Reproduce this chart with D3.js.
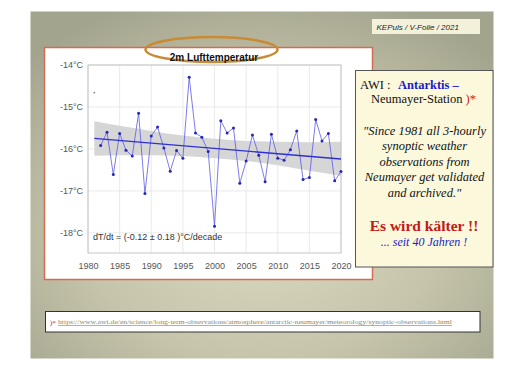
<!DOCTYPE html>
<html><head><meta charset="utf-8">
<script src="https://cdn.jsdelivr.net/npm/d3@7"></script>
<style>html,body{margin:0;padding:0;background:#fff;}svg{display:block;}</style>
</head><body>
<svg id="c" width="524" height="370"></svg>
<script>
// ---- data ----
const years = d3.range(1982, 2021);
const temps = [-15.92,-15.60,-16.61,-15.63,-16.03,-16.17,-15.15,-17.06,-15.69,-15.48,
  -15.98,-16.53,-16.04,-16.22,-14.29,-15.62,-15.72,-16.06,-17.84,-15.33,
  -15.62,-15.50,-16.82,-16.29,-15.67,-16.15,-16.78,-15.65,-16.22,-16.27,
  -16.02,-15.57,-16.73,-16.68,-15.30,-15.81,-15.63,-16.76,-16.54];
const strayYear = 1981, strayTemp = -14.66;
const trendYears = [1981, 2020];
const trendTemps = [-15.75, -16.24];
const bandYears = [1981,1985,1990,1995,2000,2005,2010,2015,2020];
const bandHigh  = [-15.34,-15.45,-15.57,-15.68,-15.76,-15.81,-15.83,-15.84,-15.83];
const bandLow   = [-16.16,-16.15,-16.15,-16.17,-16.22,-16.29,-16.39,-16.52,-16.64];
const yTicks = [-14,-15,-16,-17,-18];
const xTicks = [1980,1985,1990,1995,2000,2005,2010,2015,2020];
const titleText = "2m Lufttemperatur";
const annotation = "dT/dt = (-0.12 \u00b1 0.18 )\u00b0C/decade";
const sourceText = "KEPuls / V-Folie / 2021";
const quoteLines = ["\"Since 1981 all 3-hourly","synoptic weather","observations from","Neumayer get validated","and archived.\""];
const url = "https://www.awi.de/en/science/long-term-observations/atmosphere/antarctic-neumayer/meteorology/synoptic-observations.html";

const svg = d3.select("#c");
const defs = svg.append("defs");
const rg = defs.append("radialGradient").attr("id","bg").attr("cx","50%").attr("cy","62%").attr("r","70%");
rg.append("stop").attr("offset","0%").attr("stop-color","#dbd9c0");
rg.append("stop").attr("offset","55%").attr("stop-color","#c6c5ab");
rg.append("stop").attr("offset","100%").attr("stop-color","#a3a48e");

// slide background
svg.append("rect").attr("x",30.5).attr("y",11.5).attr("width",463).attr("height",347).attr("fill","url(#bg)");

// source box
svg.append("rect").attr("x",372).attr("y",19).attr("width",108).attr("height",15).attr("fill","#f4f1da");
svg.append("text").attr("x",376.5).attr("y",29.5).attr("font-family","Liberation Sans, Arial, sans-serif")
  .attr("font-size",8).attr("font-style","italic").attr("fill","#222").text(sourceText);

// chart box
svg.append("rect").attr("x",44.5).attr("y",47.5).attr("width",328).attr("height",232)
  .attr("fill","#fff").attr("stroke","#d26c52").attr("stroke-width",1.5);

const x = d3.scaleLinear().domain([1980,2020]).range([88,341]);
const y = d3.scaleLinear().domain([-18.48,-14]).range([253,65]);

// grid
const g = svg.append("g");
g.selectAll(".vg").data(xTicks).join("line").attr("x1",d=>x(d)).attr("x2",d=>x(d))
  .attr("y1",y.range()[1]).attr("y2",y.range()[0]).attr("stroke","#e4e4e4").attr("stroke-width",0.8);
g.selectAll(".hg").data(yTicks).join("line").attr("y1",d=>y(d)).attr("y2",d=>y(d))
  .attr("x1",x.range()[0]).attr("x2",x.range()[1]).attr("stroke","#e4e4e4").attr("stroke-width",0.8);

// band
const area = d3.area().x((d,i)=>x(bandYears[i])).y0((d,i)=>y(bandLow[i])).y1((d,i)=>y(bandHigh[i])).curve(d3.curveMonotoneX);
g.append("path").datum(bandYears).attr("d",area).attr("fill","#d6d6d6");

// frame
g.append("rect").attr("x",x.range()[0]).attr("y",y.range()[1]).attr("width",x.range()[1]-x.range()[0])
  .attr("height",y.range()[0]-y.range()[1]).attr("fill","none").attr("stroke","#b8b8b8").attr("stroke-width",0.8);

// axes
const ax = g.append("g").attr("transform",`translate(0,${y.range()[0]})`)
  .call(d3.axisBottom(x).tickValues(xTicks).tickFormat(d=>String(d)).tickSize(0).tickPadding(10));
const ay = g.append("g").attr("transform",`translate(${x.range()[0]},0)`)
  .call(d3.axisLeft(y).tickValues(yTicks).tickFormat(d=>String(d)+"\u00b0C").tickSize(0).tickPadding(5));
[ax,ay].forEach(a=>{a.select(".domain").remove();
  a.selectAll("text").attr("font-family","Liberation Sans, Arial, sans-serif").attr("font-size",9).attr("fill","#555");});

// series line
const line = d3.line().x((d,i)=>x(years[i])).y(d=>y(d));
g.append("path").datum(temps).attr("d",line).attr("fill","none").attr("stroke","#5a5ae6").attr("stroke-width",0.8);
// trend
g.append("line").attr("x1",x(trendYears[0])).attr("y1",y(trendTemps[0])).attr("x2",x(trendYears[1])).attr("y2",y(trendTemps[1]))
  .attr("stroke","#2f2fd6").attr("stroke-width",1.3);
// points
g.selectAll(".pt").data(temps).join("circle").attr("cx",(d,i)=>x(years[i])).attr("cy",d=>y(d)).attr("r",1.5).attr("fill","#2626b8");
g.append("circle").attr("cx",x(strayYear)).attr("cy",y(strayTemp)).attr("r",0.9).attr("fill","#888");

// annotation
g.append("text").attr("x",93).attr("y",239.5).attr("font-family","Liberation Sans, Arial, sans-serif")
  .attr("font-size",9).attr("fill","#333").text(annotation);

// title ellipse
svg.append("ellipse").attr("cx",211.5).attr("cy",49.5).attr("rx",66).attr("ry",12.5)
  .attr("fill","none").attr("stroke","#c98a34").attr("stroke-width",2.5);
svg.append("text").attr("x",214).attr("y",60.5).attr("text-anchor","middle")
  .attr("font-family","Liberation Sans, Arial, sans-serif").attr("font-weight","bold").attr("font-size",10)
  .attr("fill","#111").text(titleText);

// AWI box
svg.append("rect").attr("x",355.5).attr("y",70.5).attr("width",137.5).attr("height",196.5)
  .attr("fill","#fbf8dc").attr("stroke","#555").attr("stroke-width",1);
const serif = "Liberation Serif, Times New Roman, serif";
const t1 = svg.append("text").attr("x",360).attr("y",88.5).attr("font-family",serif).attr("font-size",12.5).attr("fill","#111");
t1.append("tspan").text("AWI :  ");
t1.append("tspan").attr("x",398).attr("font-weight","bold").attr("fill","#1c1cc8").text("Antarktis \u2013");
const t2 = svg.append("text").attr("x",371).attr("y",103).attr("font-family",serif).attr("font-size",12.5).attr("fill","#111");
t2.append("tspan").text("Neumayer-Station ");
t2.append("tspan").attr("fill","#d02020").text(")*");
svg.selectAll(".q").data(quoteLines).join("text").attr("x",424.5).attr("y",(d,i)=>134.5+i*15.5)
  .attr("text-anchor","middle").attr("font-family",serif).attr("font-style","italic").attr("font-size",12.5)
  .attr("fill","#111").text(d=>d);
svg.append("text").attr("x",424).attr("y",230.5).attr("text-anchor","middle").attr("font-family",serif)
  .attr("font-weight","bold").attr("font-size",15.5).attr("fill","#c41a1a").text("Es wird k\u00e4lter !!");
svg.append("text").attr("x",424).attr("y",245.5).attr("text-anchor","middle").attr("font-family",serif)
  .attr("font-style","italic").attr("font-size",12).attr("fill","#1c1cc8").text("... seit 40 Jahren !");

// footnote box
svg.append("rect").attr("x",45.5).attr("y",311.5).attr("width",434.5).attr("height",20.5)
  .attr("fill","#fff").attr("stroke","#333").attr("stroke-width",1);
svg.append("text").attr("x",50).attr("y",324.5).attr("font-family",serif).attr("font-size",7).attr("fill","#c02020").text(")*");
svg.append("text").attr("x",58).attr("y",324).attr("font-family",serif).attr("font-size",6.5)
  .attr("fill","#8a8a68").attr("text-decoration","underline")
  .attr("textLength",394).attr("lengthAdjust","spacingAndGlyphs").text(url);
</script>
</body></html>
